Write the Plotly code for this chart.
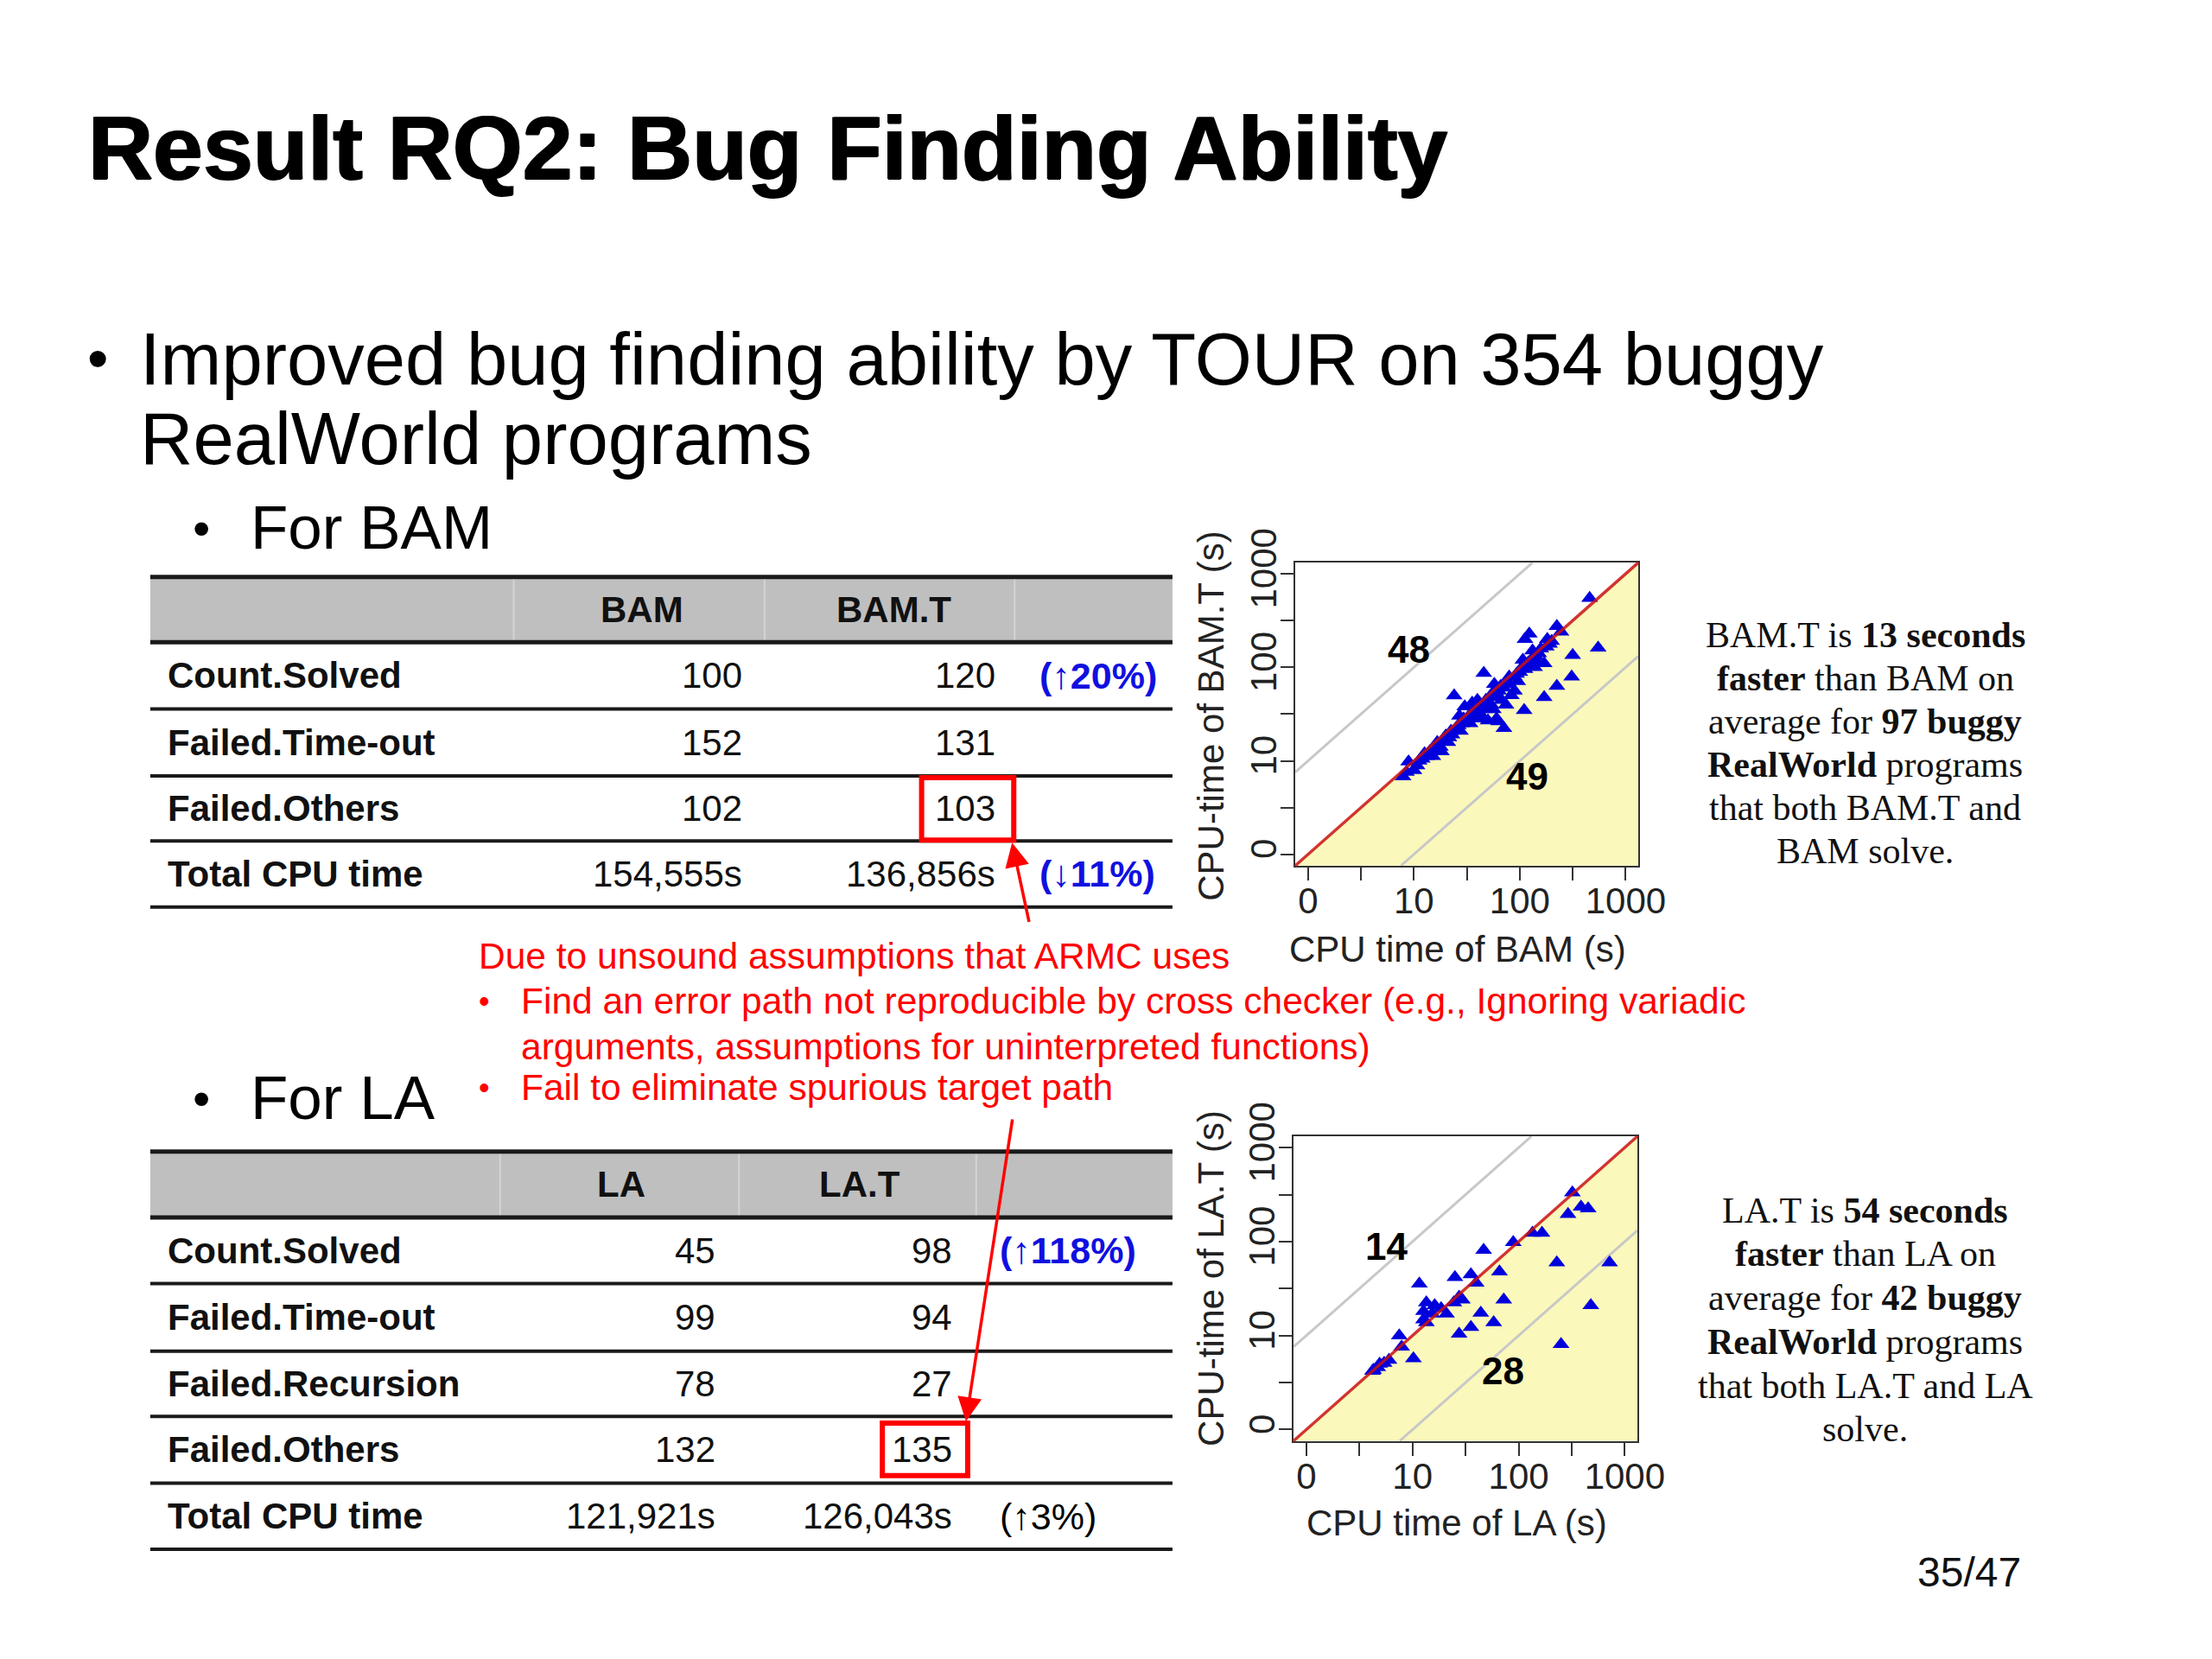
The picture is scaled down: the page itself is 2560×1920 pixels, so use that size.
import plotly.graph_objects as go

W, H = 2560, 1920
SANS = "Liberation Sans, Arial, sans-serif"
SERIF = "Liberation Serif, Times New Roman, serif"

# ---- data ----
bam_rows = ["Count.Solved", "Failed.Time-out", "Failed.Others", "Total CPU time"]
bam_vals = ["100", "152", "102", "154,555s"]
bamt_vals = ["120", "131", "103", "136,856s"]
bam_notes = ["(↑20%)", "", "", "(↓11%)"]

la_rows = ["Count.Solved", "Failed.Time-out", "Failed.Recursion", "Failed.Others", "Total CPU time"]
la_vals = ["45", "99", "78", "132", "121,921s"]
lat_vals = ["98", "94", "27", "135", "126,043s"]
la_notes = ["(↑118%)", "", "", "", "(↑3%)"]

# CPU time per program (s), BAM vs BAM.T
bam_cpu = [7.9, 8.5, 8.9, 10, 10.7, 12, 13.2, 14.1, 15.8, 16.6, 17.8, 19.1, 20, 21.4, 22.4,
           24, 25.1, 26.3, 28.2, 29.5, 31.6, 33.1, 35.5, 37.2, 39.8, 41.7, 43.7, 45.7, 47.9,
           50.1, 52.5, 55, 56.2, 60.3, 63.1, 63.1, 66.1, 70.8, 74.1, 75.9, 79.4, 83.2, 89.1,
           93.3, 100, 105, 110, 112, 120, 123, 126, 132, 141, 151, 158, 170, 170, 178, 191,
           200, 224, 224, 245, 309, 316, 457, 550, 11.2, 15.1, 18.2, 22.9, 27.5, 38, 44.7,
           50.1, 70.8, 57.5, 89.1, 112, 138, 35.5, 30.2, 12.6, 20.9, 26.9, 33.9, 39.8, 46.8,
           53.7, 60.3, 67.6, 79.4, 95.5, 107, 132, 148, 182]
bamt_cpu = [6.8, 7.6, 9.8, 7.9, 8.9, 10.5, 11.2, 12.6, 13.2, 15.8, 14.1, 16.6, 18.6, 17.8, 20.9,
            50, 22.4, 24, 25.1, 28.2, 26.3, 30.2, 31.6, 35.5, 33.1, 39.8, 38, 87, 44.7,
            41.7, 47.9, 52.5, 35.5, 28.2, 26.3, 56.2, 63.1, 60.3, 39.8, 70.8, 66.1, 50.1, 79.4,
            85.1, 89.1, 100, 34.7, 95.5, 112, 229, 105, 126, 132, 141, 158, 110, 47.9, 166, 178,
            191, 275, 63.1, 240, 79.4, 135, 550, 162, 10, 11.2, 12.6, 19.1, 20.9, 28.2, 29.5,
            26.9, 22.4, 66.1, 56.2, 200, 100, 41.7, 38, 12, 15.8, 30.2, 25.1, 44.7, 35.5,
            39.8, 50.1, 44.7, 79.4, 70.8, 120, 151, 112, 200]

# CPU time per program (s), LA vs LA.T
la_cpu = [321, 292, 387, 452, 135, 166, 89, 46.8, 229, 719, 66, 35.5, 25.1, 39.8, 11.6, 72.4,
          479, 27.5, 24.5, 13.5, 16.2, 12.7, 20.9, 44, 58.2, 35.5, 27.5, 12.7, 15.3, 251, 7.5,
          7.9, 10.2, 6.0, 5.4, 4.7, 4.3, 4.2, 29.5, 18.6, 13.5, 4.9]
lat_cpu = [331, 195, 234, 224, 123, 123, 98, 81, 59.6, 59.6, 47.9, 44.7, 41.7, 36.3, 35.5, 24,
           20.9, 25.7, 22.4, 22.4, 20.9, 18.2, 17, 17.4, 13.8, 12.3, 10.4, 14.8, 17, 8.1, 10,
           7.6, 5.7, 5.5, 5.1, 4.6, 4.3, 4.2, 24, 19.5, 13.8, 5.0]

tick_vals = [1, 3.162, 10, 31.62, 100, 316.2, 1000]
tick_text = ["0", "", "10", "", "100", "", "1000"]

annotations = []
shapes = []


def px(x):
    return x / W


def py(y):
    return 1 - y / H


def txt(x, y, s, size, color="black", family=SANS, xanchor="left", angle=0, **fkw):
    annotations.append(dict(x=px(x), y=py(y), xref="paper", yref="paper", text=s,
                            showarrow=False, xanchor=xanchor, yanchor="middle",
                            textangle=angle,
                            font=dict(size=size, color=color, family=family, **fkw)))


def hline(x0, x1, y, width=4, color="#1a1a1a"):
    shapes.append(dict(type="line", xref="paper", yref="paper", x0=px(x0), x1=px(x1),
                       y0=py(y), y1=py(y), line=dict(color=color, width=width)))


def table(top, head_bot, lines, seps, head_x, head_txt, val_x, note_x,
          rows, vals_a, vals_b, notes, note_colors):
    x0, x1 = 168, 1366
    shapes.append(dict(type="rect", xref="paper", yref="paper", x0=px(x0), x1=px(x1),
                       y0=py(head_bot), y1=py(top), fillcolor="#bfbfbf", line_width=0,
                       layer="below"))
    for sx in seps:
        shapes.append(dict(type="line", xref="paper", yref="paper", x0=px(sx), x1=px(sx),
                           y0=py(head_bot), y1=py(top), line=dict(color="#d4d4d4", width=2)))
    hline(x0, x1, top, 5)
    hline(x0, x1, head_bot, 5)
    for ly in lines:
        hline(x0, x1, ly, 4)
    hc = (top + head_bot) / 2
    for hx, ht in zip(head_x, head_txt):
        txt(hx, hc, "<b>" + ht + "</b>", 42, "#111", xanchor="center")
    edges = [head_bot] + lines
    for i, r in enumerate(rows):
        yc = (edges[i] + edges[i + 1]) / 2
        txt(186, yc, "<b>" + r + "</b>", 42, "#111")
        txt(val_x[0], yc, vals_a[i], 42, "#111", xanchor="right")
        txt(val_x[1], yc, vals_b[i], 42, "#111", xanchor="right")
        if notes[i]:
            c = note_colors[i]
            s = "<b>" + notes[i] + "</b>" if c != "black" else notes[i]
            txt(note_x, yc, s, 43, c)


# ---- slide text ----
txt(92, 126, "<b>Result RQ2: Bug Finding Ability</b>", 104, "black",
    shadow="2px 0px 0px black, 1px 1px 0px black")
txt(92, 375, "•", 70)
txt(154, 375, "Improved bug finding ability by TOUR on 354 buggy", 85)
txt(154, 469, "RealWorld programs", 85)
txt(216, 574, "•", 58)
txt(284, 574, "For BAM", 71)
txt(216, 1248, "•", 58)
txt(284, 1248, "For LA", 71)

# ---- tables ----
table(633, 710, [789, 868, 945, 1023], [594, 888, 1181], [744, 1039], ["BAM", "BAM.T"],
      [864, 1160], 1208, bam_rows, bam_vals, bamt_vals, bam_notes,
      ["#1010e0", None, None, "#1010e0"])
table(1312, 1390, [1468, 1548, 1625, 1704, 1782], [578, 858, 1136], [720, 999], ["LA", "LA.T"],
      [832, 1110], 1162, la_rows, la_vals, lat_vals, la_notes,
      ["#1010e0", None, None, None, "black"])

# red boxes
for bx0, bx1, by0, by1 in [(1072, 1180, 870, 944), (1026, 1126, 1633, 1695)]:
    shapes.append(dict(type="rect", xref="paper", yref="paper", x0=px(bx0), x1=px(bx1),
                       y0=py(by1), y1=py(by0), line=dict(color="#ff0000", width=6)))

# red notes
RED = "#ff0000"
txt(551, 1081, "Due to unsound assumptions that ARMC uses", 42.5, RED)
txt(551, 1134, "•", 36, RED)
txt(600, 1134, "Find an error path not reproducible by cross checker (e.g., Ignoring variadic", 42.5, RED)
txt(600, 1188, "arguments, assumptions for uninterpreted functions)", 42.5, RED)
txt(551, 1236, "•", 36, RED)
txt(600, 1236, "Fail to eliminate spurious target path", 42.5, RED)

for hx, hy, tx, ty in [(1178, 947, 1198, 1040), (1124, 1631, 1178, 1280)]:
    annotations.append(dict(x=px(hx), y=py(hy), xref="paper", yref="paper",
                            ax=tx - hx, ay=ty - hy, axref="pixel", ayref="pixel", text="",
                            showarrow=True, arrowhead=2, arrowsize=1.6, arrowwidth=3.5,
                            arrowcolor=RED))

# right side notes
bam_note = ["BAM.T is <b>13 seconds</b>", "<b>faster</b> than BAM on",
            "average for <b>97 buggy</b>", "<b>RealWorld</b> programs",
            "that both BAM.T and", "BAM solve."]
la_note = ["LA.T is <b>54 seconds</b>", "<b>faster</b> than LA on",
           "average for <b>42 buggy</b>", "<b>RealWorld</b> programs",
           "that both LA.T and LA", "solve."]
bam_note_y = [702, 753, 804, 855, 906, 957]
la_note_y = [1382, 1433, 1485, 1537, 1589, 1640]
for a, ya, b, yb in zip(bam_note, bam_note_y, la_note, la_note_y):
    txt(2178, ya, a, 42, "#111", SERIF, "center")
    txt(2178, yb, b, 42, "#111", SERIF, "center")

txt(2237, 1809, "35/47", 48, "#111")

# ---- scatter plots ----
fig = go.Figure()
fig.add_trace(go.Scatter(x=bam_cpu, y=bamt_cpu, mode="markers", xaxis="x", yaxis="y",
                         marker=dict(symbol="triangle-up", size=17, color="#0000dd")))
fig.add_trace(go.Scatter(x=la_cpu, y=lat_cpu, mode="markers", xaxis="x2", yaxis="y2",
                         marker=dict(symbol="triangle-up", size=17, color="#0000dd")))

rng = [-0.12, 3.12]
off = 1 / (rng[1] - rng[0])  # one decade in domain units
for xr, yr in [("x domain", "y domain"), ("x2 domain", "y2 domain")]:
    shapes.append(dict(type="path", xref=xr, yref=yr, path="M 0 0 L 1 0 L 1 1 Z",
                       fillcolor="#fbf8bb", line_width=0, layer="below"))
    shapes.append(dict(type="line", xref=xr, yref=yr, x0=0, y0=off, x1=1 - off, y1=1,
                       line=dict(color="#c8c8c8", width=3), layer="below"))
    shapes.append(dict(type="line", xref=xr, yref=yr, x0=off, y0=0, x1=1, y1=1 - off,
                       line=dict(color="#c8c8c8", width=3), layer="below"))
    shapes.append(dict(type="line", xref=xr, yref=yr, x0=0, y0=0, x1=1, y1=1,
                       line=dict(color="#cc1111", width=3.5), opacity=0.85))

ax_common = dict(type="log", range=rng, showgrid=False, zeroline=False, showline=True,
                 mirror=True, linecolor="#333", linewidth=2, ticks="outside", ticklen=15,
                 tickwidth=2, tickcolor="#333", tickvals=tick_vals, ticktext=tick_text,
                 ticklabelstandoff=-12,
                 tickfont=dict(size=42, color="#222", family=SANS))

# region counts and axis titles
for x, y, s in [(1643, 718, "48"), (1782, 869, "49"), (1617, 1424, "14"), (1753, 1571, "28")]:
    txt(x, y, "<b>" + s + "</b>", 44, "black", xanchor="center")
txt(1411, 797, "CPU-time of BAM.T (s)", 42, "#222", xanchor="center", angle=-90)
txt(1700, 1073, "CPU time of BAM (s)", 42, "#222", xanchor="center")
txt(1411, 1462, "CPU-time of LA.T (s)", 42, "#222", xanchor="center", angle=-90)
txt(1699, 1751, "CPU time of LA (s)", 42, "#222", xanchor="center")

fig.update_layout(
    width=W, height=H, margin=dict(l=0, r=0, t=0, b=0),
    paper_bgcolor="white", plot_bgcolor="white", showlegend=False,
    xaxis=dict(ax_common, domain=[1510 / W, 1912 / W], anchor="y"),
    yaxis=dict(ax_common, domain=[1 - 974 / H, 1 - 616 / H], anchor="x", tickangle=-90),
    xaxis2=dict(ax_common, domain=[1508 / W, 1911 / W], anchor="y2"),
    yaxis2=dict(ax_common, domain=[1 - 1654 / H, 1 - 1294 / H], anchor="x2", tickangle=-90),
    shapes=shapes, annotations=annotations,
)

fig.write_html("out.html")
